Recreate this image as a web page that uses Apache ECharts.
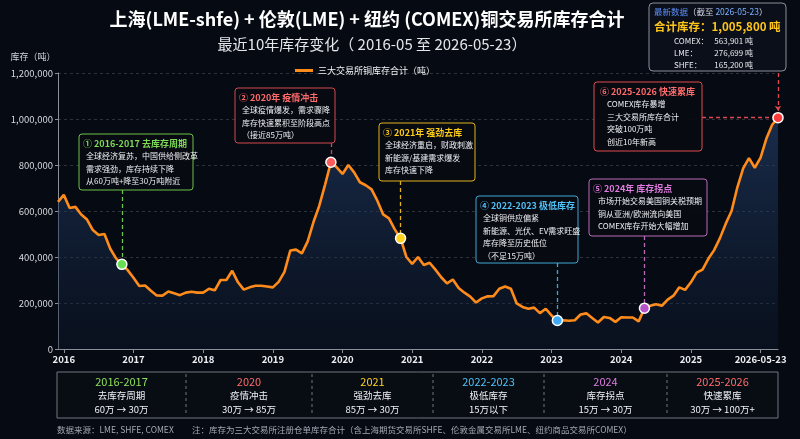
<!DOCTYPE html>
<html>
<head>
<meta charset="utf-8">
<script src="https://cdn.jsdelivr.net/npm/echarts@6.0.0/dist/echarts.min.js"></script>
<style>
html,body{margin:0;padding:0;background:#060a12;}
#c{width:800px;height:439px;}
</style>
</head>
<body>
<div id="c"></div>
<script>
// ---------- DATA ----------
const inventoryThousandTons = [
  640,670,613,618,585,563,517,496,500,436,
  394,368,343,310,274,276,253,233,232,250,
  242,234,245,249,245,245,262,255,300,300,
  340,290,258,268,275,275,272,268,292,335,
  428,432,416,468,552,623,715,812,790,761,
  800,768,725,712,694,645,585,568,520,481,
  400,370,400,365,375,345,312,285,302,265,
  245,228,202,220,229,230,262,272,262,198,
  183,175,180,156,175,146,124,125,123,125,
  150,155,135,115,139,135,118,138,137,137,
  120,177,188,195,188,215,232,268,257,290,
  332,345,392,430,482,545,600,703,785,830,
  788,832,915,975,1005.8
];
const inventoryTons = inventoryThousandTons.map(v => Math.round(v * 1000));
const xTickLabels = ['2016','2017','2018','2019','2020','2021','2022','2023','2024','2025','2026-05-23'];
const xTickIndex = [1,13,25,37,49,61,73,85,97,109,121];

const annotIndex = [11, 47, 59, 86, 101, 124];
const annotTitles = ['① 2016-2017 去库存周期','② 2020年 疫情冲击','③ 2021年 强劲去库','④ 2022-2023 极低库存','⑤ 2024年 库存拐点','⑥ 2025-2026 快速累库'];
const annotLines = [
  ['全球经济复苏，中国供给侧改革','需求强劲，库存持续下降','从60万吨+降至30万吨附近'],
  ['全球疫情爆发，需求骤降','库存快速累积至阶段高点','（接近85万吨）'],
  ['全球经济重启，财政刺激','新能源/基建需求爆发','库存快速下降'],
  ['全球铜供应偏紧','新能源、光伏、EV需求旺盛','库存降至历史低位','（不足15万吨）'],
  ['市场开始交易美国铜关税预期','铜从亚洲/欧洲流向美国','COMEX库存开始大幅增加'],
  ['COMEX库存暴增','三大交易所库存合计','突破100万吨','创近10年新高']
];

const tablePeriods = ['2016-2017','2020','2021','2022-2023','2024','2025-2026'];
const tablePhases = ['去库存周期','疫情冲击','强劲去库','极低库存','库存拐点','快速累库'];
const tableRanges = ['60万 → 30万','30万 → 85万','85万 → 30万','15万以下','15万 → 30万','30万 → 100万+'];

const latestDate = '2026-05-23';
const latestTotal = 1005800;
const exchangeNames = ['COMEX','LME','SHFE'];
const exchangeTons = [563901, 276699, 165200];

const seriesName = '三大交易所铜库存合计（吨）';
const titleText = '上海(LME-shfe) + 伦敦(LME) + 纽约 (COMEX)铜交易所库存合计';
const subtitleText = '最近10年库存变化（ 2016-05 至 2026-05-23）';
const sourceText = '数据来源：LME, SHFE, COMEX';
const noteText = '注：库存为三大交易所注册仓单库存合计（含上海期货交易所SHFE、伦敦金属交易所LME、纽约商品交易所COMEX）';

// ---------- STYLE / LAYOUT ----------
const FONT = '"Noto Sans CJK SC","Noto Sans",sans-serif';
const annotColors = ['#7ed957','#ff6b6b','#ffcc1a','#4fc3f7','#e07be0','#ff6b6b'];
const annotBorders = ['#6cc24a','#d0484f','#e0b21a','#3ea7d8','#b86ab8','#e0484f'];
const dotColors = ['#66dd55','#ff5c5c','#ffd21f','#3fa9f5','#b554c8','#ff3b3b'];
const annotBoxes = [
  {x:79, y:134, w:114, h:56, tdx:4, bdx:7},
  {x:235,y:88,  w:100, h:55, tdx:4, bdx:7},
  {x:379,y:123, w:96,  h:58, tdx:4, bdx:6},
  {x:476,y:196, w:102, h:67, tdx:4, bdx:7},
  {x:589,y:179, w:118, h:57, tdx:4, bdx:9},
  {x:594,y:82,  w:108, h:69, tdx:6, bdx:13}
];
const tableColors = ['#8fe05a','#ff6b6b','#ffd21f','#4fc3f7','#e07be0','#ff6b6b'];
const tableEdges = [57,186,312,433,544,667,778];
const fmt = n => n.toLocaleString('en-US');

const chart = echarts.init(document.getElementById('c'), null, {renderer:'canvas'});

const graphics = [];
// title
graphics.push({type:'text', x:367, y:19, style:{text:titleText, fill:'#ffffff', font:'bold 18px '+FONT, textAlign:'center', textVerticalAlign:'middle'}});
graphics.push({type:'text', x:372, y:44, style:{text:subtitleText, fill:'#e4e6ea', font:'15px '+FONT, textAlign:'center', textVerticalAlign:'middle'}});
// y axis name
graphics.push({type:'text', x:33, y:57, style:{text:'库存（吨）', fill:'#d0d4db', font:'9px '+FONT, textAlign:'center', textVerticalAlign:'middle'}});

// top-right info box
graphics.push({type:'rect', shape:{x:649,y:3,width:137,height:68,r:4}, style:{fill:'rgba(12,16,26,0.95)', stroke:'#8a8f99', lineWidth:1}});
graphics.push({type:'text', x:654, y:12, style:{
  text:'{a|最新数据}{b|（截至 }{c|'+latestDate+'}{b|）}',
  rich:{a:{fill:'#5b8ff9',font:'8.5px '+FONT},b:{fill:'#cfd6e4',font:'8.5px '+FONT},c:{fill:'#7ab0ff',font:'8.5px '+FONT}},
  textVerticalAlign:'middle'}});
graphics.push({type:'text', x:654, y:27, style:{text:'合计库存：'+fmt(latestTotal)+' 吨', fill:'#ffc61a', font:'bold 11.5px '+FONT, textVerticalAlign:'middle'}});
exchangeNames.forEach((n, k) => {
  const yy = 41 + k*12;
  graphics.push({type:'text', x:674, y:yy, style:{text:n+'：', fill:'#e8eaee', font:'8px '+FONT, textVerticalAlign:'middle'}});
  graphics.push({type:'text', x:753, y:yy, style:{text:fmt(exchangeTons[k])+' 吨', fill:'#e8eaee', font:'8px '+FONT, textAlign:'right', textVerticalAlign:'middle'}});
});

// annotation boxes
annotBoxes.forEach((b, k) => {
  graphics.push({type:'rect', z:50, shape:{x:b.x,y:b.y,width:b.w,height:b.h,r:3}, style:{fill:'rgba(8,11,18,0.94)', stroke:annotBorders[k], lineWidth:1}});
  graphics.push({type:'text', z:51, x:b.x+b.tdx, y:b.y+9.5, style:{text:annotTitles[k], fill:annotColors[k], font:'bold 9px '+FONT, textVerticalAlign:'middle'}});
  annotLines[k].forEach((t, j) => {
    graphics.push({type:'text', z:51, x:b.x+b.bdx, y:b.y+22.3+j*12.4, style:{text:t, fill:'#eef0f3', font:'8px '+FONT, textVerticalAlign:'middle'}});
  });
});

// bottom table
graphics.push({type:'rect', shape:{x:tableEdges[0],y:372,width:tableEdges[6]-tableEdges[0],height:46}, style:{fill:'rgba(10,14,22,0.7)', stroke:'#70757f', lineWidth:1}});
for (let k = 1; k < tableEdges.length-1; k++) {
  graphics.push({type:'line', shape:{x1:tableEdges[k],y1:374,x2:tableEdges[k],y2:416}, style:{stroke:'#70757f', lineWidth:1, lineDash:[3,3]}});
}
tablePeriods.forEach((p, k) => {
  const cx = (tableEdges[k] + tableEdges[k+1]) / 2;
  graphics.push({type:'text', x:cx, y:381.5, style:{text:p, fill:tableColors[k], font:'11px '+FONT, textAlign:'center', textVerticalAlign:'middle'}});
  graphics.push({type:'text', x:cx, y:395.5, style:{text:tablePhases[k], fill:'#f0f2f5', font:'9.5px '+FONT, textAlign:'center', textVerticalAlign:'middle'}});
  graphics.push({type:'text', x:cx, y:409.5, style:{text:tableRanges[k], fill:'#f0f2f5', font:'9.5px '+FONT, textAlign:'center', textVerticalAlign:'middle'}});
});
// footer
graphics.push({type:'text', x:57, y:430, style:{text:sourceText, fill:'#a3a8b2', font:'8.5px '+FONT, textVerticalAlign:'middle'}});
graphics.push({type:'text', x:192, y:430, style:{text:noteText, fill:'#a3a8b2', font:'8.5px '+FONT, textVerticalAlign:'middle'}});

const pickTick = (index) => xTickIndex.indexOf(index) >= 0;

const option = {
  backgroundColor:'#060a12',
  animation:false,
  textStyle:{fontFamily:FONT},
  grid:{left:58, right:22, top:73, bottom:90, containLabel:false},
  legend:{
    data:[seriesName], left:290, top:61, icon:'rect', itemWidth:18, itemHeight:3, itemGap:6,
    textStyle:{color:'#f0f2f5', fontSize:9, fontFamily:FONT}
  },
  xAxis:{
    type:'category', boundaryGap:false,
    data: inventoryTons.map((_, i) => i),
    axisLine:{show:true, lineStyle:{color:'#8a8f99', width:1}},
    axisTick:{show:true, interval:pickTick, length:4, lineStyle:{color:'#8a8f99'}},
    axisLabel:{interval:pickTick, formatter:(v, i) => xTickLabels[xTickIndex.indexOf(Number(v))] || '', color:'#eceef2', fontSize:9.5, fontWeight:'bold', margin:6, fontFamily:FONT},
    splitLine:{show:false}
  },
  yAxis:{
    type:'value', min:0, max:1200000, interval:200000,
    axisLine:{show:true, lineStyle:{color:'#8a8f99', width:1}},
    axisTick:{show:true, length:3, lineStyle:{color:'#8a8f99'}},
    axisLabel:{formatter:v => fmt(v), color:'#d6d9df', fontSize:9.5, margin:5, fontFamily:FONT},
    splitLine:{show:true, lineStyle:{color:'rgba(255,255,255,0.17)', type:[3,3], width:1}}
  },
  series:[{
    name:seriesName, type:'line', data:inventoryTons, symbol:'none', smooth:false,
    color:'#ff8c1a',
    lineStyle:{color:'#ff8c1a', width:2.6},
    areaStyle:{color:new echarts.graphic.LinearGradient(0,0,0,1,[
      {offset:0, color:'rgba(38,68,115,0.85)'},
      {offset:1, color:'rgba(14,26,48,0.55)'}
    ])},
    z:3,
    markPoint:{
      symbol:'circle', symbolSize:10, z:20,
      label:{show:false}, silent:true,
      itemStyle:{borderColor:'#ffffff', borderWidth:1.5},
      data: annotIndex.map((idx, k) => ({coord:[idx, inventoryTons[idx]], itemStyle:{color:dotColors[k], borderColor:'#ffffff', borderWidth:1.5}}))
    }
  }],
  graphic: graphics
};
chart.setOption(option);

// connectors from annotation boxes to the marked points (positions taken from the chart's own scales)
const pts = annotIndex.map(idx => chart.convertToPixel({seriesIndex:0}, [idx, inventoryTons[idx]]));
const topPx = chart.convertToPixel({yAxisIndex:0}, 1200000);
const lines = [];
annotBoxes.forEach((b, k) => {
  const p = pts[k];
  const ls = {color:annotBorders[k], type:[4,3], width:1.3};
  if (k < 5) {
    lines.push([{x:p[0], y:b.y+b.h, lineStyle:ls}, {x:p[0], y:p[1]}]);
  } else {
    lines.push([{x:b.x+b.w, y:p[1], lineStyle:ls}, {x:p[0], y:p[1]}]);
    lines.push([{x:p[0], y:topPx, lineStyle:ls}, {x:p[0], y:p[1]-7, symbol:'arrow', symbolSize:5}]);
  }
});
chart.setOption({series:[{
  markLine:{silent:true, symbol:['none','none'], label:{show:false}, z:10, animation:false, data:lines}
}]});
</script>
</body>
</html>
